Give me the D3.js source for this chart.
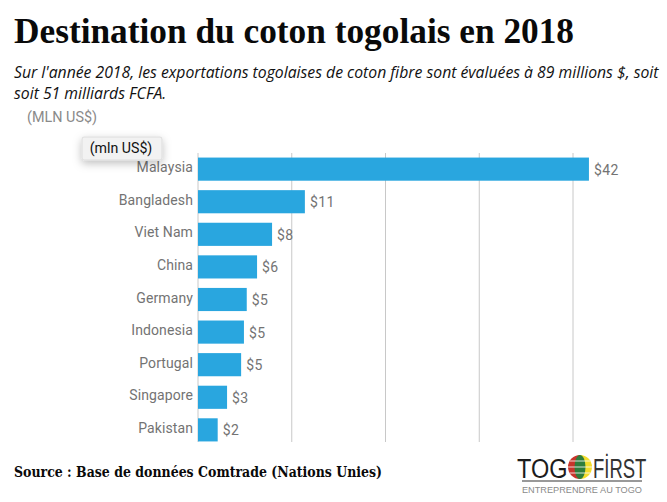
<!DOCTYPE html>
<html>
<head>
<meta charset="utf-8">
<script src="https://cdn.jsdelivr.net/npm/d3@7"></script>
<style>
  html, body { margin: 0; padding: 0; background: #fff; }
  svg { display: block; }
</style>
</head>
<body>
<div id="chart"></div>
<script>
const countries = ["Malaysia", "Bangladesh", "Viet Nam", "China", "Germany", "Indonesia", "Portugal", "Singapore", "Pakistan"];
const exportValues = [41.7, 11.4, 7.9, 6.3, 5.2, 4.9, 4.6, 3.1, 2.1];
const valueLabels = ["$42", "$11", "$8", "$6", "$5", "$5", "$5", "$3", "$2"];
const gridTicks = [0, 10, 20, 30, 40];
const subtitleLines = [
  "Sur l'année 2018, les exportations togolaises de coton fibre sont évaluées à 89 millions $, soit",
  "soit 51 milliards FCFA."
];

const width = 667, height = 502;

const svg = d3.select("#chart").append("svg")
  .attr("width", width)
  .attr("height", height);

const defs = svg.append("defs");
const shadow = defs.append("filter").attr("id", "tipShadow")
  .attr("x", "-30%").attr("y", "-50%").attr("width", "160%").attr("height", "220%");
shadow.append("feDropShadow")
  .attr("dx", 0).attr("dy", 3).attr("stdDeviation", 4)
  .attr("flood-color", "#000").attr("flood-opacity", 0.25);

// Title block
svg.append("text")
  .attr("x", 14).attr("y", 43)
  .attr("font-family", "Liberation Serif")
  .attr("font-weight", "bold")
  .attr("font-size", 36)
  .attr("textLength", 560)
  .attr("lengthAdjust", "spacingAndGlyphs")
  .attr("fill", "#0a0a0a")
  .text("Destination du coton togolais en 2018");

svg.selectAll(".subtitle").data(subtitleLines).enter().append("text")
  .attr("class", "subtitle")
  .attr("x", 14)
  .attr("y", (d, i) => 78 + i * 20.5)
  .attr("font-family", "Open Sans")
  .attr("font-style", "italic")
  .attr("font-size", 15.75)
  .attr("fill", "#111")
  .text(d => d);

svg.append("text")
  .attr("x", 27).attr("y", 122)
  .attr("font-family", "Roboto")
  .attr("font-size", 14.4)
  .attr("fill", "#8a8a8a")
  .text("(MLN US$)");

// Scales
const x = d3.scaleLinear().domain([0, 40]).range([198, 573]);
const y = d3.scaleBand().domain(countries).range([153, 446]).paddingInner(0.29).paddingOuter(0.14);

// Grid
svg.selectAll(".grid").data(gridTicks).enter().append("line")
  .attr("class", "grid")
  .attr("x1", d => x(d)).attr("x2", d => x(d))
  .attr("y1", 153).attr("y2", 442)
  .attr("stroke", "#c8c8c8")
  .attr("stroke-width", 1);

// Bars
svg.selectAll(".bar").data(countries).enter().append("rect")
  .attr("class", "bar")
  .attr("x", x(0))
  .attr("y", d => y(d))
  .attr("width", (d, i) => x(exportValues[i]) - x(0))
  .attr("height", y.bandwidth())
  .attr("fill", "#29a6df");

// Category labels
svg.selectAll(".cat").data(countries).enter().append("text")
  .attr("class", "cat")
  .attr("x", 193)
  .attr("y", d => y(d) + y.bandwidth() / 2 + 3)
  .attr("text-anchor", "end")
  .attr("font-family", "Roboto")
  .attr("font-size", 14)
  .attr("letter-spacing", 0.1)
  .attr("fill", "#737373")
  .text(d => d);

// Value labels
svg.selectAll(".val").data(countries).enter().append("text")
  .attr("class", "val")
  .attr("x", (d, i) => x(exportValues[i]) + 5)
  .attr("y", d => y(d) + y.bandwidth() / 2 + 5.5)
  .attr("font-family", "Roboto")
  .attr("font-size", 14)
  .attr("letter-spacing", 0.4)
  .attr("fill", "#737373")
  .text((d, i) => valueLabels[i]);

// Tooltip box
svg.append("rect")
  .attr("x", 82).attr("y", 137)
  .attr("width", 80).attr("height", 23)
  .attr("rx", 2)
  .attr("fill", "#f2f2f2")
  .attr("stroke", "#dcdcdc")
  .attr("filter", "url(#tipShadow)");
svg.append("text")
  .attr("x", 121).attr("y", 153)
  .attr("text-anchor", "middle")
  .attr("font-family", "Roboto")
  .attr("font-size", 14.2)
  .attr("fill", "#111")
  .text("(mln US$)");

// Source
svg.append("text")
  .attr("x", 14).attr("y", 477)
  .attr("font-family", "DejaVu Serif")
  .attr("font-weight", "bold")
  .attr("font-size", 14.5)
  .attr("textLength", 368)
  .attr("lengthAdjust", "spacingAndGlyphs")
  .attr("fill", "#0a0a0a")
  .text("Source : Base de données Comtrade (Nations Unies)");

// Logo: squeezed with a transform so the text boxes stay inside the page
const logo = svg.append("g");
logo.append("text")
  .attr("transform", "translate(517,478) scale(0.84,1)")
  .attr("font-family", "Liberation Sans")
  .attr("font-size", 28)
  .attr("fill", "#1c1c1c")
  .text("TOG");
logo.append("text")
  .attr("transform", "translate(593,478) scale(0.66,1)")
  .attr("font-family", "Liberation Sans")
  .attr("font-size", 28)
  .attr("fill", "#333")
  .text("FİRST");

// globe: red, green and yellow sections
const globeX = 580, globeY = 467, globeR = 12;
const arc = d3.arc().innerRadius(0).outerRadius(globeR);
logo.append("path")
  .attr("transform", `translate(${globeX},${globeY})`)
  .attr("d", arc({ startAngle: Math.PI, endAngle: 2 * Math.PI }))
  .attr("fill", "#c8352c");
logo.append("path")
  .attr("transform", `translate(${globeX},${globeY})`)
  .attr("d", arc({ startAngle: 0, endAngle: Math.PI }))
  .attr("fill", "#f2dc2e");
logo.append("ellipse")
  .attr("cx", globeX).attr("cy", globeY)
  .attr("rx", 5.5).attr("ry", globeR)
  .attr("fill", "#2f7d3c");
[-6, 0, 6].forEach(dy => {
  const half = Math.sqrt(globeR * globeR - dy * dy);
  logo.append("line")
    .attr("x1", globeX - half).attr("x2", globeX + half)
    .attr("y1", globeY + dy).attr("y2", globeY + dy)
    .attr("stroke", "#fff").attr("stroke-width", 0.8);
});
logo.append("line")
  .attr("x1", 522).attr("x2", 642)
  .attr("y1", 481).attr("y2", 481)
  .attr("stroke", "#777").attr("stroke-width", 1.5);
logo.append("text")
  .attr("x", 522).attr("y", 492.5)
  .attr("font-family", "Liberation Sans")
  .attr("font-size", 9.5)
  .attr("textLength", 120)
  .attr("lengthAdjust", "spacingAndGlyphs")
  .attr("fill", "#8a8a8a")
  .text("ENTREPRENDRE AU TOGO");
</script>
</body>
</html>
